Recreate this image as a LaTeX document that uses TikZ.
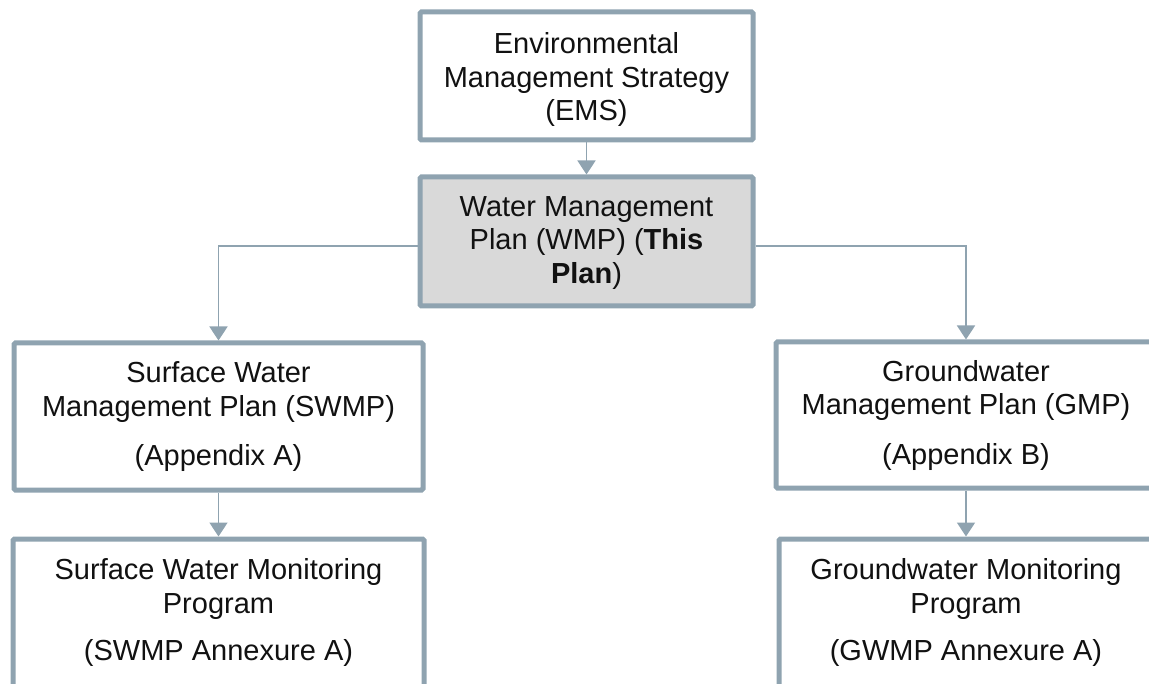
\documentclass[tikz,border=0pt]{standalone}
\usepackage{fontspec}
\setmainfont{Liberation Sans}
\usetikzlibrary{arrows.meta}
\definecolor{bordc}{HTML}{8FA3B0}
\definecolor{boxgray}{HTML}{D9D9D9}
\definecolor{txtc}{HTML}{111111}
\tikzset{
  docbox/.style={draw=bordc, line width=5pt, fill=white, rounded corners=1.5pt, inner sep=0pt},
  doctext/.style={align=center, text=txtc, inner sep=0pt,
    font=\fontsize{29}{33.5}\selectfont},
  conn/.style={draw=bordc, line width=1.8pt, -{Triangle[length=14pt,width=18pt]}},
}
\begin{document}
\begin{tikzpicture}[x=1pt,y=-1pt]
\useasboundingbox (0,0) rectangle (1149,684);
\clip (0,0) rectangle (1149,684);
\node[docbox, minimum width=333pt, minimum height=128pt] (ems) at (586.5,76) {};
\node[doctext] (emsT) at (586.5,79.5) {Environmental\\Management Strategy\\(EMS)};
\node[docbox, fill=boxgray, minimum width=333pt, minimum height=129pt] (wmp) at (586.5,241.5) {};
\node[doctext] (wmpT) at (586.5,243) {Water Management\\Plan (WMP) (\textbf{This}\\\textbf{Plan})};
\node[docbox, minimum width=409pt, minimum height=147pt] (swmp) at (218.5,416.5) {};
\node[doctext] (swmpT) at (218.5,417) {Surface Water\\Management Plan (SWMP)\\[16pt](Appendix A)};
\node[docbox, minimum width=411pt, minimum height=150pt] (swm) at (218.5,614) {};
\node[doctext] (swmT) at (218.5,612.5) {Surface Water Monitoring\\Program\\[14pt](SWMP Annexure A)};
\node[docbox, minimum width=380pt, minimum height=146pt] (gmp) at (966,415) {};
\node[doctext] (gmpT) at (966,415.5) {Groundwater\\Management Plan (GMP)\\[16pt](Appendix B)};
\node[docbox, minimum width=374pt, minimum height=150pt] (gwm) at (966,614) {};
\node[doctext] (gwmT) at (966,612.5) {Groundwater Monitoring\\Program\\[14pt](GWMP Annexure A)};
\draw[conn] (ems.south) -- (wmp.north);
\draw[conn] ([yshift=-4.5pt]wmp.west) -| (swmp.north);
\draw[conn] ([yshift=-4.5pt]wmp.east) -| (gmp.north);
\draw[conn] (swmp.south) -- (swm.north);
\draw[conn] (gmp.south) -- (gwm.north);
\end{tikzpicture}
\end{document}
